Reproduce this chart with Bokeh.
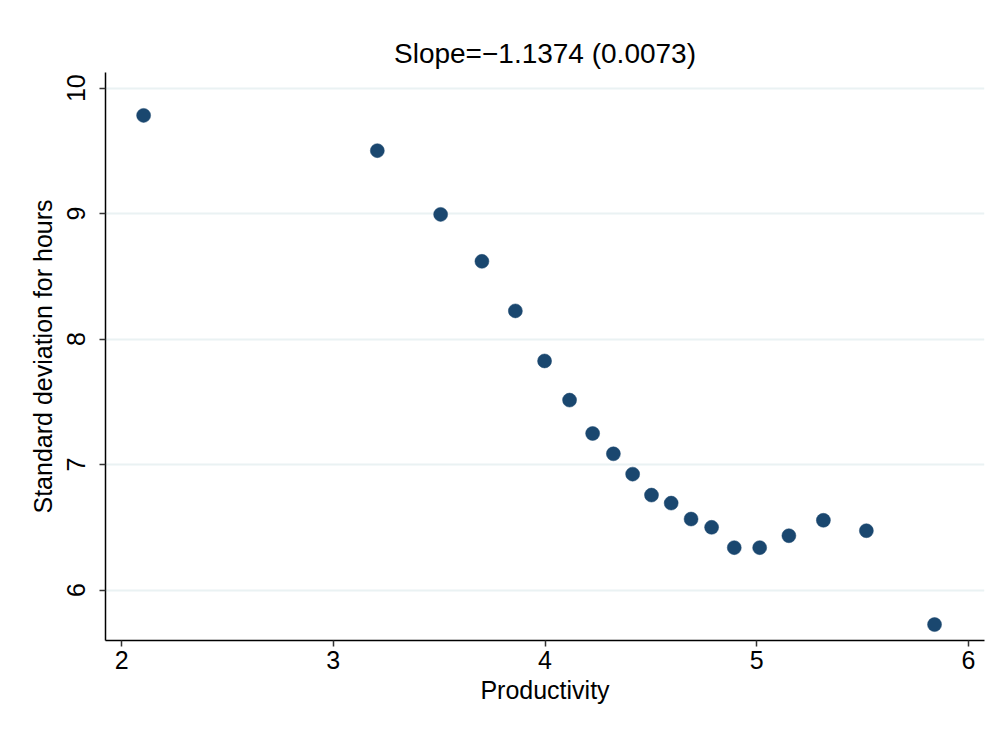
from bokeh.plotting import figure
from bokeh.models import Range1d, FixedTicker
from bokeh.embed import file_html
from bokeh.resources import INLINE

# Data
productivity = [2.104, 3.208, 3.507, 3.702, 3.860, 3.998, 4.116, 4.225, 4.323, 4.414,
                4.503, 4.596, 4.690, 4.787, 4.894, 5.014, 5.152, 5.315, 5.518, 5.840]
sd_hours = [9.783, 9.502, 8.994, 8.620, 8.225, 7.826, 7.514, 7.248, 7.086, 6.924,
            6.757, 6.693, 6.566, 6.500, 6.338, 6.338, 6.433, 6.556, 6.473, 5.725]
x_ticks = [2, 3, 4, 5, 6]
y_ticks = [6, 7, 8, 9, 10]
title_text = "Slope=\u22121.1374 (0.0073)"
x_label = "Productivity"
y_label = "Standard deviation for hours"

FONT = "Liberation Sans"
NAVY = "#1a476f"
GRID = "#eaf2f3"

p = figure(width=992, height=718, output_backend="svg", toolbar_location=None,
           x_range=Range1d(1.924, 6.076), y_range=Range1d(5.598, 10.125),
           min_border_left=105, min_border_right=8, min_border_top=72, min_border_bottom=78)

p.title.text = title_text
p.title.align = "center"
p.title.text_font = FONT
p.title.text_font_size = "28px"
p.title.text_font_style = "normal"
p.title.text_color = "black"
p.title.standoff = 8

p.outline_line_color = None
p.background_fill_color = "white"
p.border_fill_color = "white"

p.xgrid.grid_line_color = None
p.ygrid.grid_line_color = GRID
p.ygrid.grid_line_width = 2

p.xaxis.ticker = FixedTicker(ticks=x_ticks)
p.yaxis.ticker = FixedTicker(ticks=y_ticks)
p.xaxis.minor_tick_line_color = None
p.yaxis.minor_tick_line_color = None

for ax in (p.xaxis[0], p.yaxis[0]):
    ax.axis_line_color = "black"
    ax.axis_line_width = 1.5
    ax.major_tick_line_color = "#333333"
    ax.major_tick_line_width = 1.5
    ax.major_tick_in = 0
    ax.major_tick_out = 6
    ax.major_label_text_font = FONT
    ax.major_label_text_font_size = "25px"
    ax.major_label_text_color = "black"
    ax.axis_label_text_font = FONT
    ax.axis_label_text_font_size = "25px"
    ax.axis_label_text_font_style = "normal"
    ax.axis_label_text_color = "black"

p.xaxis.axis_label = x_label
p.yaxis.axis_label = y_label
p.yaxis.major_label_orientation = "vertical"
p.xaxis.major_label_standoff = 4
p.yaxis.major_label_standoff = 14
p.xaxis.axis_label_standoff = 4
p.yaxis.axis_label_standoff = 8

p.scatter(productivity, sd_hours, size=14, fill_color=NAVY, line_color=NAVY, line_width=0.5)

open("out.html", "w").write(file_html(p, INLINE))
